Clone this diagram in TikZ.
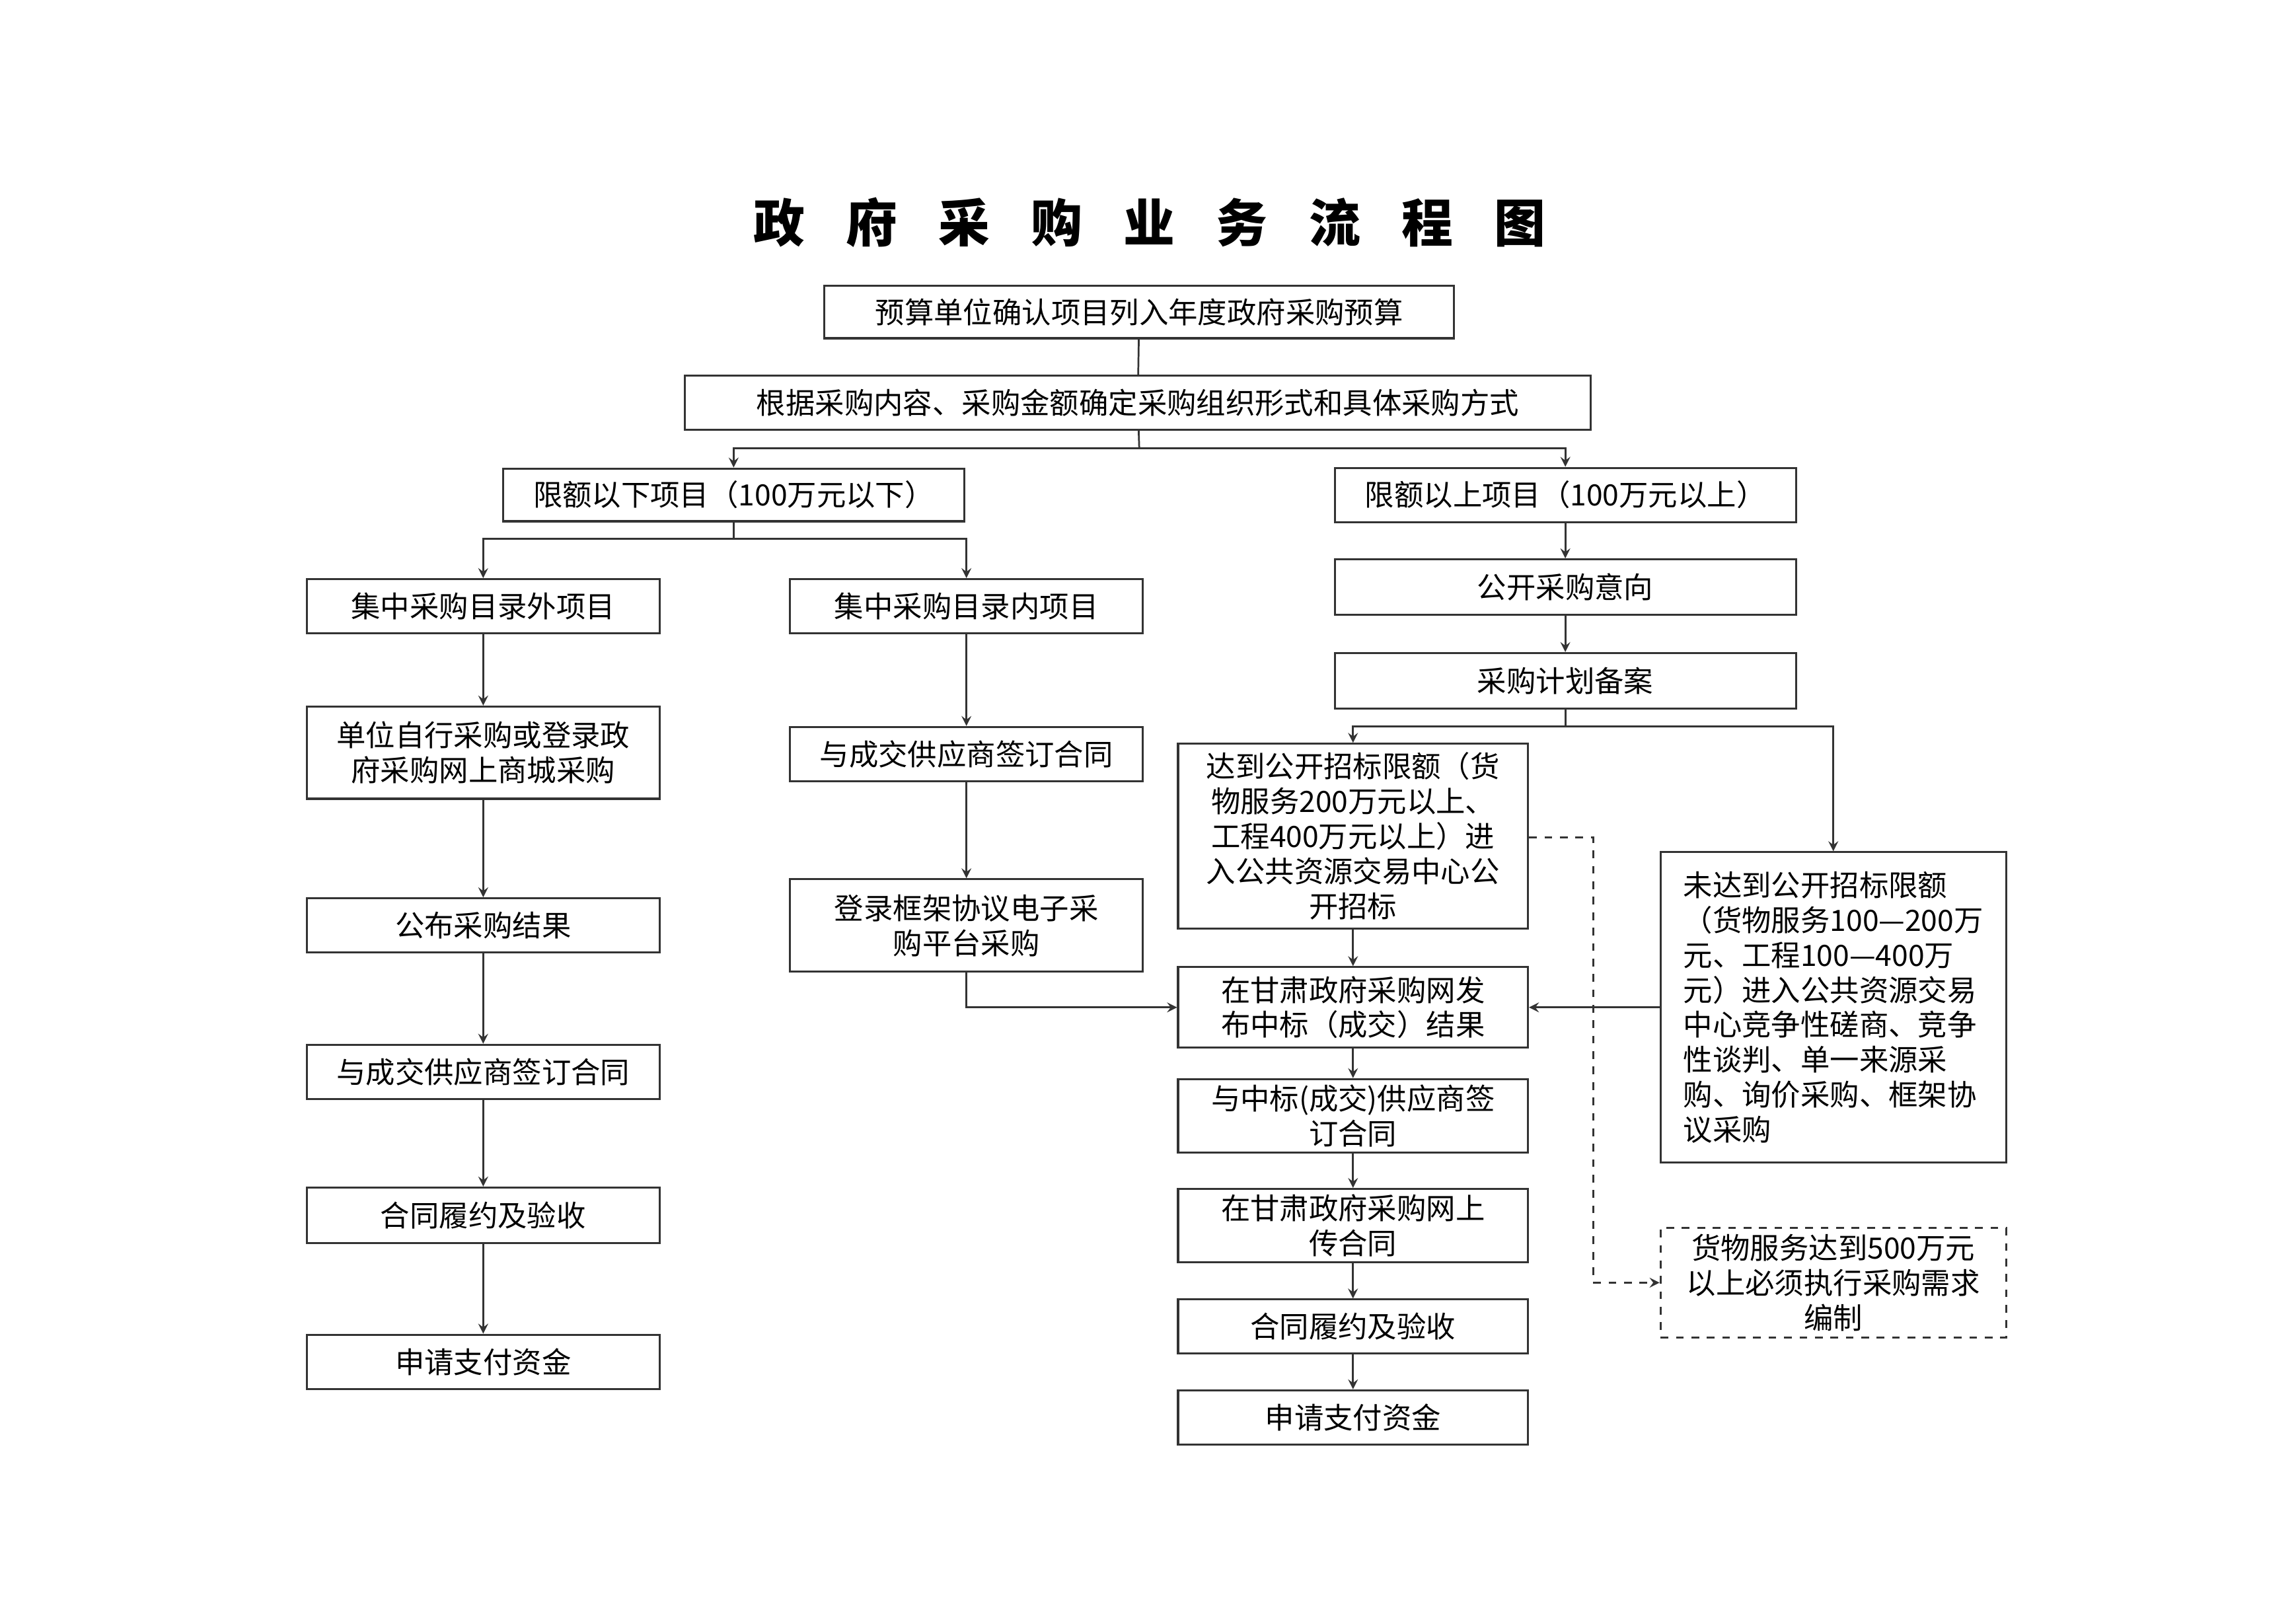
\documentclass[tikz,border=0pt]{standalone}
\usepackage{fontspec}
\setmainfont{Noto Sans CJK SC}
\usetikzlibrary{arrows,calc}

\begin{document}
\begin{tikzpicture}[
	x=0.02cm, y=-0.02cm,
	box/.style={
		draw=black!80,
		line width=0.8pt,
		rectangle,
		inner sep=1pt,
		align=center,
		font=\fontsize{11.4}{13.6}\selectfont,
	},
	lbox/.style={box, minimum width=4.82cm},
	rbox/.style={box, minimum width=6.3cm},
	cbox/.style={box, minimum width=4.78cm},
	line/.style={draw=black!80, line width=0.7pt},
	arrows=->,
	>=stealth,
]
\useasboundingbox (0,0) rectangle (1568,1106);

\node [font=\fontsize{20}{24}\selectfont\bfseries] (title) at (785,152) {政\hspace{0.8em}府\hspace{0.8em}采\hspace{0.8em}购\hspace{0.8em}业\hspace{0.8em}务\hspace{0.8em}流\hspace{0.8em}程\hspace{0.8em}图};

% top
\node [box, minimum width=8.6cm, minimum height=0.72cm] (budget) at (778,213) {预算单位确认项目列入年度政府采购预算};
\node [box, minimum width=12.38cm, minimum height=0.74cm] (method) at (777,275) {根据采购内容、采购金额确定采购组织形式和具体采购方式};
\node [rbox, minimum height=0.72cm] (below) at (501,338) {限额以下项目（100万元以下）};
\node [rbox, minimum height=0.74cm] (above) at (1069,338) {限额以上项目（100万元以上）};

% left column
\node [lbox, minimum height=0.74cm] (outcat) at (330,414) {集中采购目录外项目};
\node [lbox, minimum height=1.26cm] (selfbuy) at (330,514) {单位自行采购或登录政\\府采购网上商城采购};
\node [lbox, minimum height=0.74cm] (publish) at (330,632) {公布采购结果};
\node [lbox, minimum height=0.74cm] (signL) at (330,732) {与成交供应商签订合同};
\node [lbox, minimum height=0.76cm] (acceptL) at (330,830) {合同履约及验收};
\node [lbox, minimum height=0.74cm] (payL) at (330,930) {申请支付资金};

% middle column
\node [lbox, minimum height=0.74cm] (incat) at (660,414) {集中采购目录内项目};
\node [lbox, minimum height=0.74cm] (signM) at (660,515) {与成交供应商签订合同};
\node [lbox, minimum height=1.26cm] (frame) at (660,632) {登录框架协议电子采\\购平台采购};

% right column
\node [rbox, minimum height=0.76cm] (intent) at (1069,401) {公开采购意向};
\node [rbox, minimum height=0.76cm] (plan) at (1069,465) {采购计划备案};
\node [cbox, minimum height=2.52cm] (tender) at (924,571) {达到公开招标限额（货\\物服务200万元以上、\\工程400万元以上）进\\入公共资源交易中心公\\开招标};
\node [box, minimum width=4.72cm, minimum height=4.24cm, align=left] (other) at (1252,688) {未达到公开招标限额\\（货物服务100—200万\\元、工程100—400万\\元）进入公共资源交易\\中心竞争性磋商、竞争\\性谈判、单一来源采\\购、询价采购、框架协\\议采购};
\node [cbox, minimum height=1.1cm] (result) at (924,688) {在甘肃政府采购网发\\布中标（成交）结果};
\node [cbox, minimum height=1.0cm] (signR) at (924,762) {与中标(成交)供应商签\\订合同};
\node [cbox, minimum height=1.0cm] (upload) at (924,837) {在甘肃政府采购网上\\传合同};
\node [cbox, minimum height=0.74cm] (acceptR) at (924,906) {合同履约及验收};
\node [cbox, minimum height=0.74cm] (payR) at (924,968) {申请支付资金};
\node [box, dashed, minimum width=4.72cm, minimum height=1.5cm] (need) at (1252,876) {货物服务达到500万元\\以上必须执行采购需求\\编制};

% forks
\coordinate (f1) at (778,306);
\coordinate (f2) at (501,368);
\coordinate (f3) at (1069,496);
\coordinate (d1) at (1088,572);

\draw [line, -] (budget) -- (method);
\draw [line, -] (method) -- (f1);
\draw [line] (f1) -| (below);
\draw [line] (f1) -| (above);
\draw [line, -] (below) -- (f2);
\draw [line] (f2) -| (outcat);
\draw [line] (f2) -| (incat);

\draw [line] (outcat) -- (selfbuy);
\draw [line] (selfbuy) -- (publish);
\draw [line] (publish) -- (signL);
\draw [line] (signL) -- (acceptL);
\draw [line] (acceptL) -- (payL);

\draw [line] (incat) -- (signM);
\draw [line] (signM) -- (frame);
\draw [line] (frame.south) |- (result.west);

\draw [line] (above) -- (intent);
\draw [line] (intent) -- (plan);
\draw [line, -] (plan) -- (f3);
\draw [line] (f3) -| (tender);
\draw [line] (f3) -| (other);
\draw [line] (tender) -- (result);
\draw [line] (other.west) -- (result.east);
\draw [line] (result) -- (signR);
\draw [line] (signR) -- (upload);
\draw [line] (upload) -- (acceptR);
\draw [line] (acceptR) -- (payR);
\draw [line, dashed] (tender.east |- d1) -- (d1) |- (need.west);
\end{tikzpicture}
\end{document}
